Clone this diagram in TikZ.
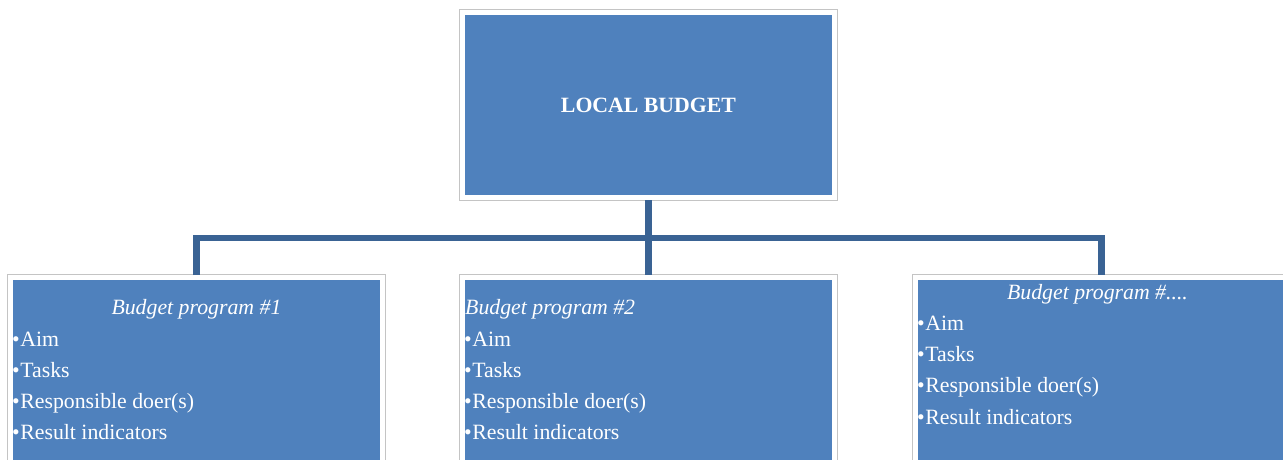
\documentclass[tikz,border=0pt]{standalone}
\usepackage{fontspec}
\setmainfont{Liberation Serif}
\usepackage{tikz}
\usetikzlibrary{positioning, calc}
\definecolor{boxblue}{RGB}{79,129,189}
\definecolor{linkblue}{RGB}{58,99,148}
\definecolor{framegray}{RGB}{196,196,196}
\newcommand{\bul}{\textbullet\hspace{0.5pt}}

\begin{document}
\begin{tikzpicture}[x=1pt, y=-1pt,
  budgetbox/.style={rectangle, fill=boxblue, draw=white, line width=5pt,
    preaction={draw=framegray, line width=7pt},
    minimum width=372pt, minimum height=185pt, inner sep=0pt},
  link/.style={draw=linkblue, line width=6.5pt},
  boxtext/.style={text=white, inner sep=0pt, font=\fontsize{21.8}{26}\selectfont}]
\useasboundingbox (0,0) rectangle (1283,459);
\clip (0,0) rectangle (1283,459);

% boxes
\node[budgetbox] (local) at (648.5,105) {};
\node[budgetbox] (prog1) at (196.5,370) {};
\node[budgetbox] (prog2) at (648.5,370) {};
\node[budgetbox] (prog3) at (1101.5,370) {};
\coordinate (bus) at (648.5,238);

% connectors
\draw[link] (local.south) -- (prog2.north);
\draw[link] (prog1.north) -- (prog1.north |- bus) -- (prog3.north |- bus) -- (prog3.north);

% texts
\node[boxtext, font=\bfseries\fontsize{21.8}{26}\selectfont, anchor=base] (localtext) at ([yshift=-7pt]local.center) {LOCAL BUDGET};
\node[boxtext, anchor=base] (title1) at ([yshift=-39pt]prog1.north) {\itshape Budget program \#1};
\node[boxtext, anchor=base west] (title2) at ([xshift=5pt, yshift=-39pt]prog2.north west) {\itshape Budget program \#2};
\node[boxtext, anchor=base] (title3) at ([xshift=-4pt, yshift=-24pt]prog3.north) {\itshape Budget program \#....};
\foreach \item [count=\i] in {Aim, Tasks, Responsible doer(s), Result indicators} {
  \node[boxtext, anchor=base west] (itemA\i) at ([xshift=4pt, yshift={-71pt-31.2pt*(\i-1)}]prog1.north west) {\bul\item};
  \node[boxtext, anchor=base west] (itemB\i) at ([xshift=4pt, yshift={-71pt-31.2pt*(\i-1)}]prog2.north west) {\bul\item};
  \node[boxtext, anchor=base west] (itemC\i) at ([xshift=4pt, yshift={-55.5pt-31.2pt*(\i-1)}]prog3.north west) {\bul\item};
}
\end{tikzpicture}
\end{document}
